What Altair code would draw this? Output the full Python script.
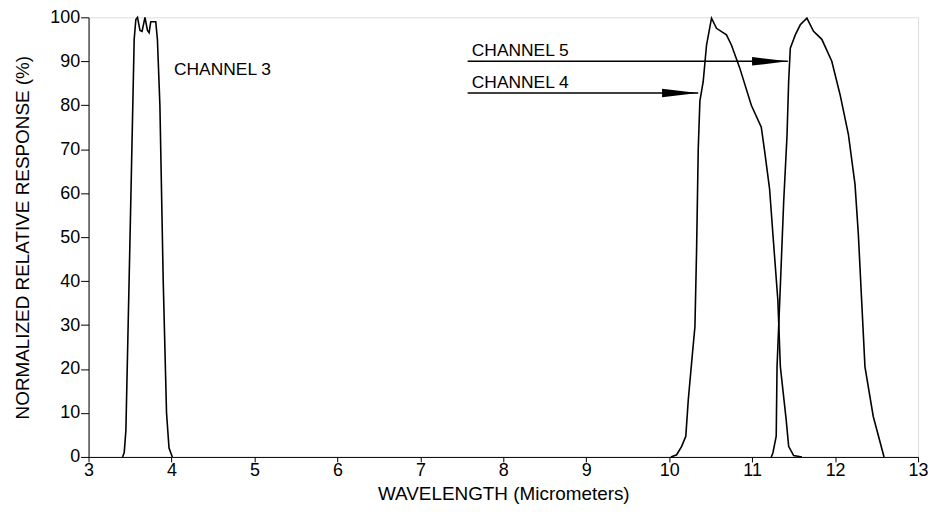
import altair as alt
import pandas as pd

# Channel 3 response
ch3_wl = [3.41, 3.43, 3.45, 3.50, 3.55, 3.57, 3.59, 3.62, 3.645, 3.68, 3.71, 3.73, 3.75, 3.81, 3.83, 3.86, 3.90, 3.94, 3.97, 4.01]
ch3_pct = [0, 1, 6, 50, 95, 99.5, 100, 97, 96.8, 100, 97, 96.5, 99, 99, 95, 80, 40, 10, 2, 0]

# Channel 4 response
ch4_wl = [10.02, 10.09, 10.15, 10.20, 10.23, 10.28, 10.31, 10.33, 10.35, 10.37, 10.41, 10.45, 10.51, 10.57, 10.69, 10.75, 10.85, 10.99, 11.11, 11.15, 11.21, 11.25, 11.31, 11.34, 11.41, 11.44, 11.50, 11.60]
ch4_pct = [0, 0.5, 2.4, 4.7, 13, 23.5, 29.6, 47, 70, 81, 85.4, 93.7, 99.8, 97.5, 96, 93.7, 88.5, 80, 75, 69.6, 61, 50.7, 35.6, 20.5, 8.5, 2.4, 0.3, 0]

# Channel 5 response
ch5_wl = [11.23, 11.25, 11.29, 11.30, 11.34, 11.38, 11.42, 11.44, 11.46, 11.52, 11.58, 11.66, 11.74, 11.84, 11.96, 12.06, 12.16, 12.24, 12.28, 12.32, 12.36, 12.46, 12.59]
ch5_pct = [0, 0.9, 4.7, 20.5, 39, 58, 73, 85.4, 93, 96, 98.3, 99.8, 96.8, 95, 90, 82.4, 73.4, 62, 50.7, 35.6, 20.5, 9.2, 0]

# Annotations
label_text = ["CHANNEL 3", "CHANNEL 5", "CHANNEL 4"]
label_x = [4.03, 7.62, 7.62]
label_y = [88.0, 92.3, 85.0]

arrow_name = ["CHANNEL 5", "CHANNEL 4"]
arrow_start = [7.57, 7.57]
arrow_tip = [11.43, 10.35]
arrow_y = [90, 82.8]
head_center = [11.215, 10.13]

x_ticks = [3, 4, 5, 6, 7, 8, 9, 10, 11, 12, 13]
y_ticks = [0, 10, 20, 30, 40, 50, 60, 70, 80, 90, 100]

rows = []
for name, wl, pct in [("3", ch3_wl, ch3_pct), ("4", ch4_wl, ch4_pct), ("5", ch5_wl, ch5_pct)]:
    for i, (a, b) in enumerate(zip(wl, pct)):
        rows.append({"channel": name, "order": i, "wl": a, "pct": b})
curves = pd.DataFrame(rows)

labels = pd.DataFrame({"text": label_text, "x": label_x, "y": label_y})
arrows = pd.DataFrame({"name": arrow_name, "x": arrow_start, "x2": arrow_tip, "y": arrow_y, "hc": head_center})

FONT = "Liberation Sans"

xscale = alt.Scale(domain=[3, 13], nice=False)
yscale = alt.Scale(domain=[0, 100], nice=False)

xaxis = alt.Axis(values=x_ticks, format="d", title="WAVELENGTH (Micrometers)", grid=False,
                 tickColor="black", domainColor="black", labelColor="black",
                 labelFontSize=18, titleFontSize=19, titleFontWeight="normal",
                 labelFont=FONT, titleFont=FONT, tickSize=5, titleColor="black",
                 titlePadding=5, labelPadding=0, labelFlush=False)
yaxis = alt.Axis(values=y_ticks, format="d", title="NORMALIZED RELATIVE RESPONSE (%)", grid=False,
                 tickColor="black", domainColor="black", labelColor="black",
                 labelFontSize=18, titleFontSize=19, titleFontWeight="normal",
                 labelFont=FONT, titleFont=FONT, tickSize=8, titleColor="black",
                 titlePadding=17, labelPadding=1, labelFlush=False)

lines = alt.Chart(curves).mark_line(color="black", strokeWidth=1.6).encode(
    x=alt.X("wl:Q", scale=xscale, axis=xaxis),
    y=alt.Y("pct:Q", scale=yscale, axis=yaxis),
    detail="channel:N",
    order="order:Q",
)

text = alt.Chart(labels).mark_text(align="left", baseline="middle", fontSize=17.5, font=FONT, color="black").encode(
    x=alt.X("x:Q", scale=xscale),
    y=alt.Y("y:Q", scale=yscale),
    text="text:N",
)

shafts = alt.Chart(arrows).mark_rule(color="black", strokeWidth=1.6).encode(
    x=alt.X("x:Q", scale=xscale),
    x2="x2:Q",
    y=alt.Y("y:Q", scale=yscale),
)

heads = alt.Chart(arrows).mark_point(
    shape="M-1,-0.24 L1,0 L-1,0.24 Z", filled=True, color="black", opacity=1, size=1300
).encode(
    x=alt.X("hc:Q", scale=xscale),
    y=alt.Y("y:Q", scale=yscale),
)

chart = alt.layer(lines, shafts, heads, text).properties(
    width=834, height=442,
    autosize="none",
    padding={"left": 81, "top": 8, "right": 10, "bottom": 56},
).configure_view(stroke="black", strokeWidth=1.5).configure(background="white")

chart.save("out.html", embed_options={"renderer": "svg", "actions": False})
